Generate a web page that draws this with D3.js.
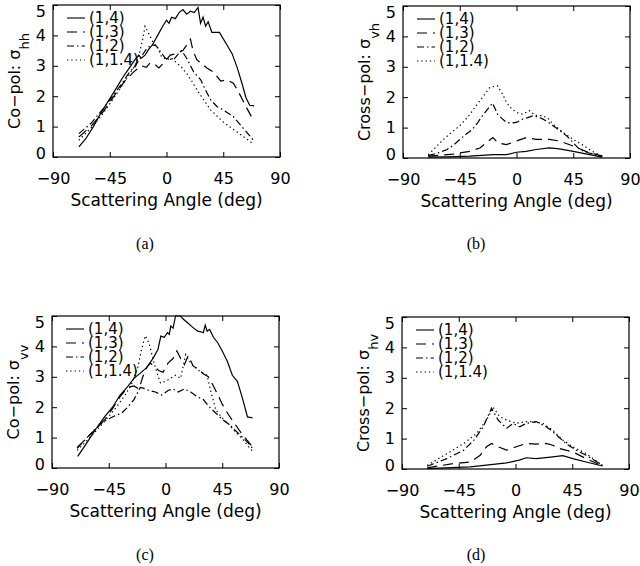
<!DOCTYPE html>
<html>
<head>
<meta charset="utf-8">
<script src="https://cdn.jsdelivr.net/npm/d3@7"></script>
<style>
  body { margin: 0; background: #fff; }
  svg { display: block; }
</style>
</head>
<body>
<div id="chart"></div>
<script>
// axis ticks and legend
const xTicks = [-90, -45, 0, 45, 90];
const yTicks = [0, 1, 2, 3, 4, 5];
const legendLabels = ["(1,4)", "(1,3)", "(1,2)", "(1,1.4)"];

// (a) co-pol hh : [angle, sigma]
const hh_14 = [[-69.5,0.33],[-64,0.6],[-58,1.0],[-52,1.45],[-46,1.85],[-40,2.25],[-35,2.6],[-30,2.9],[-25,3.2],[-22,3.35],[-20,3.25],[-17,3.35],[-14,3.55],[-11,3.7],[-7,4.0],[-3,4.3],[0,4.5],[2,4.4],[4,4.6],[7,4.55],[10,4.75],[13,4.85],[16,4.7],[19,4.8],[22,4.75],[25,4.92],[27,4.4],[29,4.6],[31,4.3],[33,4.45],[36,4.1],[42,4.1],[47,3.75],[52,3.4],[56,2.95],[60,2.4],[63,1.95],[66,1.7],[69.5,1.68]];
const hh_13 = [[-69.5,0.66],[-60,1.0],[-50,1.5],[-40,2.1],[-33,2.5],[-26,2.8],[-20,3.0],[-16,2.95],[-13,3.1],[-9,3.04],[-6,2.93],[-2,3.1],[3,3.35],[8,3.4],[13,3.5],[19,3.87],[21,3.5],[24,3.2],[32,2.93],[37,2.8],[43,2.5],[48,2.54],[53,2.43],[57,2.15],[63,1.66],[69,1.2]];
const hh_12 = [[-69.5,0.77],[-60,1.1],[-50,1.6],[-40,2.15],[-30,2.75],[-24,3.05],[-20,3.3],[-16,3.55],[-12,3.7],[-8,3.65],[-1,3.25],[5.6,3.2],[9.5,3.4],[12,3.5],[16,3.25],[21.5,2.8],[27,2.55],[31,2.2],[35,1.88],[40,1.66],[45,1.55],[53,1.33],[61,0.94],[69,0.55]];
const hh_114 = [[-69.5,0.55],[-60,0.95],[-50,1.45],[-40,2.05],[-32,2.55],[-26,2.95],[-22,3.3],[-19,3.85],[-17,4.3],[-14,4.05],[-11,3.8],[-7,3.6],[-4,3.3],[0,3.2],[4,3.25],[8,3.1],[12,2.95],[16,2.75],[20,2.5],[25,2.15],[30,1.85],[35,1.55],[40,1.35],[45,1.15],[50,1.0],[55,0.85],[60,0.7],[65,0.55],[69,0.42]];

// (b) cross-pol vh
const vh_14 = [[-70,0.03],[-55,0.04],[-37,0.06],[-18.5,0.11],[-8,0.11],[0,0.19],[7.7,0.22],[15.6,0.28],[26,0.33],[34,0.3],[45,0.22],[58,0.11],[68,0.03]];
const vh_13 = [[-70,0.06],[-50,0.13],[-37,0.22],[-29,0.33],[-24,0.5],[-18.7,0.67],[-14.8,0.5],[-8,0.44],[0,0.56],[7.7,0.67],[15.6,0.61],[26,0.61],[34,0.56],[45,0.39],[55,0.22],[68,0.06]];
const vh_12 = [[-70,0.08],[-62,0.17],[-55,0.28],[-50,0.42],[-45,0.61],[-40,0.78],[-35,0.94],[-31,1.15],[-27,1.39],[-23,1.6],[-19,1.81],[-15,1.44],[-11,1.28],[-8,1.17],[-4,1.15],[0,1.17],[5,1.28],[9,1.33],[13,1.39],[17,1.35],[21,1.28],[26,1.15],[31,1.0],[35,0.88],[40,0.72],[45,0.5],[50,0.28],[56,0.18],[63,0.11],[68,0.06]];
const vh_114 = [[-70,0.11],[-64,0.35],[-58,0.61],[-52,0.82],[-45,1.06],[-38,1.38],[-32,1.72],[-26,2.05],[-21,2.33],[-15,2.37],[-11,2.1],[-8,1.83],[-4,1.62],[0,1.5],[5,1.44],[10,1.56],[15,1.4],[21,1.39],[25,1.3],[29,1.11],[33,0.98],[37,0.83],[41,0.72],[45,0.61],[52,0.44],[60,0.22],[68,0.06]];

// (c) co-pol vv
const vv_14 = [[-69.6,0.38],[-62,0.85],[-55,1.3],[-48,1.7],[-42,2.0],[-36,2.4],[-30,2.68],[-25,2.95],[-20,3.12],[-15,3.3],[-10,3.6],[-6,3.9],[-3.7,4.34],[-1,4.3],[1.6,4.45],[3,4.4],[4.2,4.67],[6,4.6],[8,5.0],[12,5.0],[14,4.9],[17.5,4.78],[21,4.65],[25.5,4.5],[28,4.48],[30,4.45],[31.5,4.7],[33,4.5],[35,4.56],[38,4.3],[41.4,4.12],[45,3.85],[49,3.51],[53,3.05],[57,2.85],[61,2.3],[65,1.68],[69,1.65]];
const vv_13 = [[-70,0.68],[-62,1.0],[-55,1.3],[-48,1.6],[-42,1.95],[-36,2.35],[-30,2.65],[-25,2.7],[-21,2.6],[-18,3.0],[-15,3.3],[-12,3.45],[-8,3.3],[-5,3.2],[-2,3.15],[2,3.45],[6,3.6],[9,3.85],[12,3.6],[15,3.4],[18,3.7],[22,3.35],[26,3.25],[30,3.1],[34,3.0],[38,2.7],[41,2.45],[45,2.1],[50,1.75],[55,1.45],[60,1.15],[65,0.9],[69,0.7]];
const vv_12 = [[-70,0.65],[-60,1.1],[-50,1.5],[-45,1.62],[-40,1.72],[-35,1.8],[-30,2.0],[-25,2.25],[-20,2.65],[-17,2.62],[-13,2.55],[-8,2.5],[-3,2.4],[2,2.55],[6,2.6],[10,2.5],[15,2.6],[20,2.5],[25,2.35],[30,2.25],[35,2.0],[40,1.8],[45,1.6],[50,1.45],[55,1.25],[60,1.05],[65,0.85],[69,0.65]];
const vv_114 = [[-70,0.58],[-60,1.0],[-50,1.45],[-44,1.75],[-38,2.05],[-32,2.4],[-27,2.75],[-22,3.3],[-19,3.9],[-16,4.35],[-13,4.1],[-10,3.6],[-7,3.15],[-4,2.8],[0,2.85],[4,2.95],[8,3.05],[12,2.95],[16,3.73],[20,3.45],[24,3.3],[28,3.15],[33,3.05],[36,2.5],[40,1.9],[45,1.65],[50,1.45],[55,1.2],[60,1.0],[65,0.75],[69,0.55]];

// (d) cross-pol hv
const hv_14 = [[-70,0.01],[-36,0.07],[-17.7,0.15],[-7,0.2],[3,0.29],[8.5,0.37],[16.4,0.34],[29.5,0.4],[37.5,0.44],[45.5,0.34],[56,0.23],[69,0.1]];
const hv_13 = [[-70,0.04],[-49,0.18],[-36,0.23],[-28,0.45],[-23,0.73],[-19,0.84],[-13.8,0.73],[-7,0.62],[0.6,0.73],[8.5,0.84],[16.4,0.82],[24.4,0.84],[29.5,0.78],[35,0.67],[45.5,0.56],[56,0.34],[69,0.1]];
const hv_12 = [[-70,0.09],[-54.5,0.34],[-41,0.62],[-33,0.95],[-25.6,1.39],[-19,2.0],[-13.8,1.61],[-7,1.34],[-2,1.5],[3.3,1.39],[8.5,1.5],[16.4,1.56],[24.4,1.39],[29.5,1.23],[40,0.84],[48,0.62],[56,0.45],[69,0.12]];
const hv_114 = [[-70,0.12],[-54.5,0.5],[-41,0.84],[-30.8,1.17],[-23,1.61],[-17.7,2.03],[-12.5,1.72],[-7,1.61],[0.6,1.5],[8.5,1.56],[14,1.56],[21.7,1.5],[29.5,1.28],[37.5,0.95],[45.5,0.73],[56,0.51],[69,0.12]];

const dashes = [null, "10,6", "7,3,1.5,3", "1.3,3"];
const W = 227, H = 152;
const font = "'DejaVu Sans', sans-serif";

const panels = [
    { left: 53, top: 5, series: [hh_14, hh_13, hh_12, hh_114], title: "Co\u2212pol: \u03c3", sub: "hh", caption: "(a)", capX: 145, capY: 243 },
    { left: 403, top: 6, series: [vh_14, vh_13, vh_12, vh_114], title: "Cross\u2212pol: \u03c3", sub: "vh", caption: "(b)", capX: 476, capY: 243 },
    { left: 52, top: 316, series: [vv_14, vv_13, vv_12, vv_114], title: "Co\u2212pol: \u03c3", sub: "vv", caption: "(c)", capX: 145, capY: 554 },
    { left: 402, top: 317, series: [hv_14, hv_13, hv_12, hv_114], title: "Cross\u2212pol: \u03c3", sub: "hv", caption: "(d)", capX: 476, capY: 554 }
];

let svg = d3.select("#chart")
    .append("svg")
    .attr("width", 640)
    .attr("height", 566);

function drawPanel(p) {
    let x = d3.scaleLinear().domain([-90, 90]).range([0, W]);
    let y = d3.scaleLinear().domain([0, 5]).range([H, 0]);

    let g = svg.append("g")
        .attr("transform", "translate(" + p.left + "," + p.top + ")");

    // axes with inward ticks on all four sides
    let bottom = g.append("g")
        .attr("transform", "translate(0," + H + ")")
        .call(d3.axisBottom(x).tickValues(xTicks).tickSizeInner(-5).tickSizeOuter(0).tickPadding(16));
    let left = g.append("g")
        .call(d3.axisLeft(y).tickValues(yTicks).tickFormat(d3.format("d")).tickSizeInner(-5).tickSizeOuter(0).tickPadding(7));
    g.append("g")
        .call(d3.axisTop(x).tickValues(xTicks).tickSizeInner(-5).tickSizeOuter(0).tickFormat(""));
    g.append("g")
        .attr("transform", "translate(" + W + ",0)")
        .call(d3.axisRight(y).tickValues(yTicks).tickSizeInner(-5).tickSizeOuter(0).tickFormat(""));

    g.selectAll(".domain").remove();
    g.selectAll(".tick line").attr("stroke", "#000").attr("stroke-width", 1);
    [bottom, left].forEach(a => a.attr("font-family", font).attr("font-size", 16)
        .selectAll("text").attr("fill", "#000"));
    // end labels sit a little inside the frame, as in the original
    left.selectAll(".tick text")
        .attr("dy", d => d === 5 ? "0.72em" : d === 0 ? "0.08em" : "0.32em");

    g.append("rect")
        .attr("width", W)
        .attr("height", H)
        .attr("fill", "none")
        .attr("stroke", "#000")
        .attr("stroke-width", 1.2);

    // curves
    let line = d3.line()
        .x(d => x(d[0]))
        .y(d => y(d[1]));

    g.selectAll(".curve")
        .data(p.series)
        .join("path")
        .attr("class", "curve")
        .attr("d", line)
        .attr("fill", "none")
        .attr("stroke", "#000")
        .attr("stroke-width", 1.2)
        .attr("stroke-dasharray", (d, i) => dashes[i]);

    // legend
    let leg = g.selectAll(".leg")
        .data(legendLabels)
        .join("g")
        .attr("class", "leg")
        .attr("transform", (d, i) => "translate(0," + (13 + i * 14) + ")");
    leg.append("line")
        .attr("x1", 14).attr("x2", 32)
        .attr("stroke", "#000")
        .attr("stroke-width", 1.1)
        .attr("stroke-dasharray", (d, i) => dashes[i]);
    leg.append("text")
        .attr("x", 36)
        .attr("dy", "0.36em")
        .attr("font-family", font)
        .attr("font-size", 15)
        .text(d => d);

    // axis titles
    g.append("text")
        .attr("x", W / 2)
        .attr("y", H + 49)
        .attr("text-anchor", "middle")
        .attr("font-family", font)
        .attr("font-size", 17)
        .text("Scattering Angle (deg)");

    let yt = g.append("text")
        .attr("transform", "translate(-33," + (H / 2) + ") rotate(-90)")
        .attr("text-anchor", "middle")
        .attr("font-family", font)
        .attr("font-size", 16);
    yt.append("tspan").text(p.title);
    yt.append("tspan").attr("dy", 9).attr("font-size", 13).text(p.sub);

    svg.append("text")
        .attr("x", p.capX)
        .attr("y", p.capY)
        .attr("dy", "0.35em")
        .attr("text-anchor", "middle")
        .attr("font-family", "'Liberation Serif', serif")
        .attr("font-size", 16)
        .text(p.caption);
}

panels.forEach(drawPanel);
</script>
</body>
</html>
